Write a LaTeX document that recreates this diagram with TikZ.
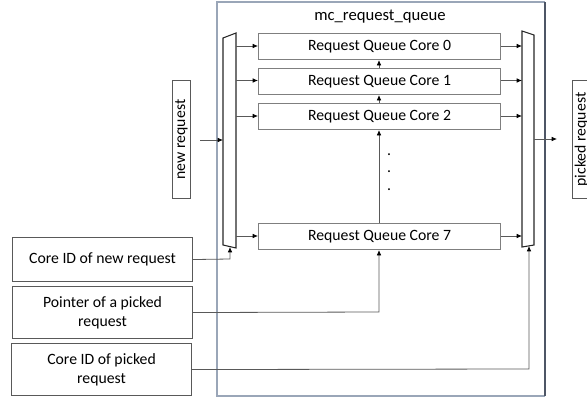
\documentclass[tikz,border=0pt]{standalone}
\usepackage{fontspec}
\setmainfont{Carlito}
\usetikzlibrary{arrows.meta}
\definecolor{framecol}{HTML}{9AA6B8}
\definecolor{framedark}{HTML}{4E5666}
\definecolor{boxcol}{HTML}{7F7F7F}
\definecolor{wirecol}{HTML}{595959}
\tikzset{
  lbl/.style={font=\fontsize{11.8}{14}\selectfont},
  queuebox/.style={lbl, draw=boxcol, line width=0.8pt, minimum width=181.5pt, minimum height=19.5pt, inner sep=0pt, anchor=north west},
  inbox/.style={lbl, draw=wirecol, line width=0.8pt, minimum width=135pt, inner sep=0pt, align=center, anchor=north west},
  sidebox/.style={lbl, draw=wirecol, line width=0.8pt, minimum width=88pt, minimum height=14pt, inner sep=0pt, rotate=90},
  wire/.style={draw=wirecol, line width=0.6pt, -{Latex[length=4pt,width=3.5pt,color=black]}},
  muxline/.style={draw=black!85, line width=0.8pt}
}
\begin{document}
\begin{tikzpicture}[x=0.75pt, y=-0.75pt]
\useasboundingbox (0,0) rectangle (587,400);
% enclosing module frame
\draw[framecol, line width=0.9pt] (545,396) -- (217,396) -- (217,2) -- (545,2);
\draw[framedark, line width=1pt] (545,2) -- (545,396);
\node[font=\fontsize{12.5}{14}\selectfont] (title) at (380,17) {mc\_request\_queue};

% input and output multiplexers
\draw[muxline] (223,38) -- (236,33) -- (236,248) -- (223,245) -- cycle;
\coordinate (lmuxin) at (223,140);
\coordinate (lmuxbot) at (230,247);
\draw[muxline] (522,31) -- (534,35) -- (534,245) -- (522,247) -- cycle;
\coordinate (rmuxout) at (534,139);
\coordinate (rmuxbot) at (529,246);

% per-core request queues
\node[queuebox] (q0) at (258,33) {Request Queue Core 0};
\node[queuebox] (q1) at (258,68) {Request Queue Core 1};
\node[queuebox] (q2) at (258,103) {Request Queue Core 2};
\node[queuebox] (q7) at (258,223) {Request Queue Core 7};
\node[lbl, align=center, inner sep=0pt] (dots) at (389,172) {.\\[-1pt].\\[-1pt].};

% mux to queues and queues to mux
\foreach \q/\yy in {q0/46, q1/80.5, q2/116, q7/236} {
  \draw[wire] (236,\yy) -- (\q.west |- 0,\yy);
  \draw[wire] (\q.east |- 0,\yy) -- (522,\yy);
}
% chaining between queues
\draw[wire] (q1.north -| 379,0) -- (q0.south -| 379,0);
\draw[wire] (q2.north -| 379,0) -- (q1.south -| 379,0);
\draw[wire] (q7.north -| 379,0) -- (q2.south -| 379,0);

% external signals
\node[sidebox] (newreq) at (181.5,139.5) {new request};
\draw[wire] (200,140) -- (lmuxin);
\node[sidebox] (pickreq) at (581.5,139.5) {picked request};
\draw[wire] (rmuxout) -- (557,139);

\node[inbox, minimum height=33pt] (coreid) at (12,237) {Core ID of new request};
\node[inbox, minimum height=39pt] (ptr) at (12,286) {Pointer of a picked\\request};
\node[inbox, minimum height=39pt] (pickid) at (11,343) {Core ID of picked\\request};

\draw[wire] (coreid.east) -- (230,259) -- (lmuxbot);
\draw[wire] (ptr.east) -- (379,312) -- (q7.south -| 379,0);
\draw[wire] (pickid.east) -- (529,369) -- (rmuxbot);
\end{tikzpicture}
\end{document}
